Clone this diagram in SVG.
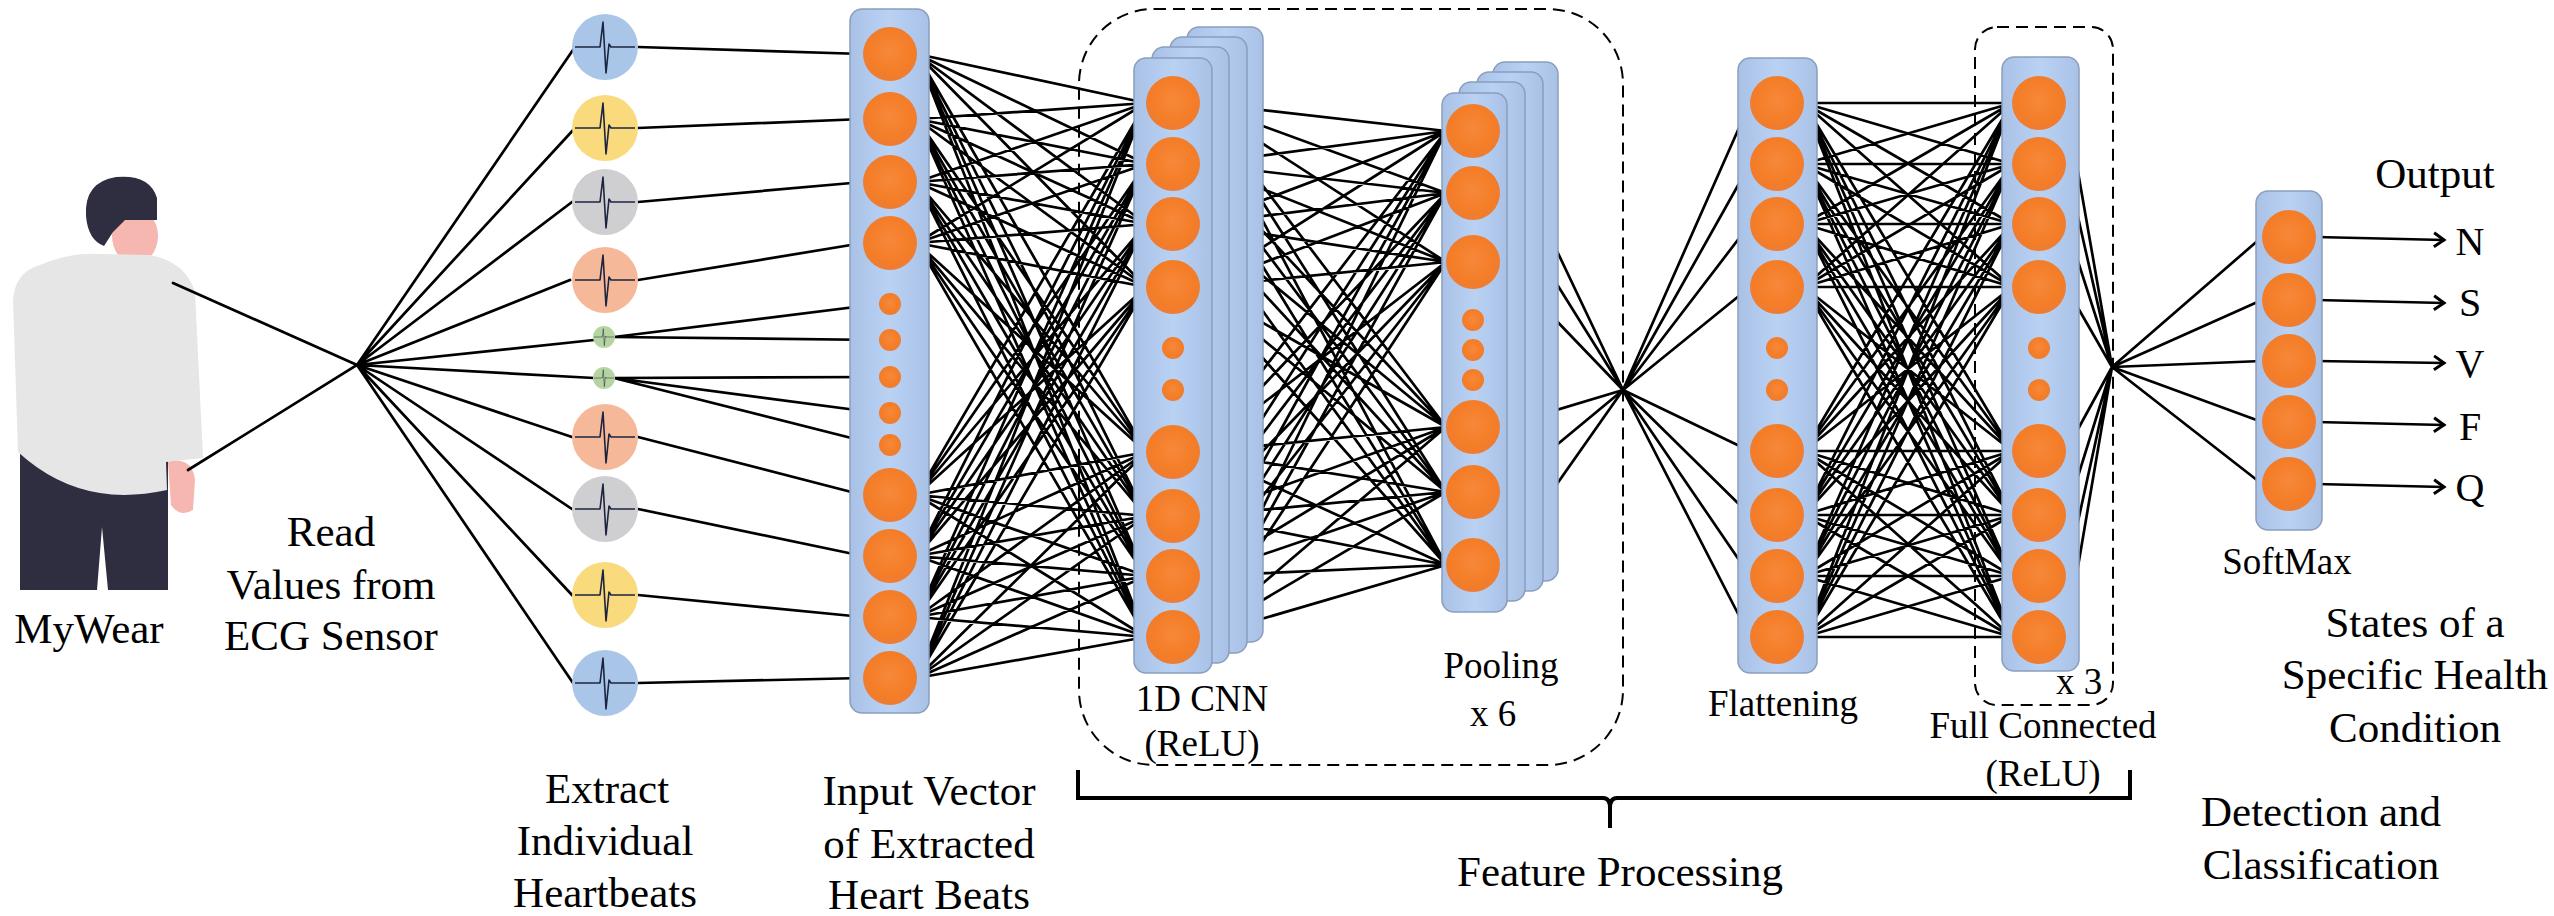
<svg xmlns="http://www.w3.org/2000/svg" xmlns:xlink="http://www.w3.org/1999/xlink" width="2554" height="916" viewBox="0 0 2554 916">
  <style>
    .lbl { fill: #000; text-anchor: middle; }
    .big { font-size: 43px; }
    .sm { font-size: 37px; }
    .layer { fill: url(#layerGrad); stroke: #8a9dbd; stroke-width: 1.5; }
    .node { fill: url(#nodeGrad); }
    .wire { fill: none; stroke: #000; stroke-width: 2.7; stroke-linecap: round; }
    .dash { fill: none; stroke: #000; stroke-width: 2; stroke-dasharray: 12 7; }
    .ecg { fill: none; stroke: #1c2440; stroke-width: 1.6; stroke-linejoin: round; }
  </style>
  <defs>
    <linearGradient id="layerGrad" x1="0" y1="0" x2="1" y2="0">
      <stop offset="0" stop-color="#a9c1e5"/>
      <stop offset="0.5" stop-color="#b9d2f4"/>
      <stop offset="1" stop-color="#a9c1e5"/>
    </linearGradient>
    <radialGradient id="nodeGrad" cx="0.5" cy="0.45" r="0.5">
      <stop offset="0" stop-color="#f7883a"/>
      <stop offset="0.8" stop-color="#f47d27"/>
      <stop offset="1" stop-color="#ef7c30"/>
    </radialGradient>
    <marker id="arr" markerWidth="18" markerHeight="18" refX="14" refY="9" orient="auto" markerUnits="userSpaceOnUse">
      <path d="M4,2 L14,9 L4,16" fill="none" stroke="#000" stroke-width="3"/>
    </marker>
    <path id="ecgTrace" class="ecg" d="M-30,0 H-5 L-2,-25 L1,26 L4,-3 L6,0 H30"/>
  </defs>

  <rect width="2554" height="916" fill="#fff"/>

  <!-- wearer -->
  <g id="person">
    <path d="M20,452 L168,452 L168,590 L108,590 L102,527 L97,590 L20,590 Z" fill="#2f2e41"/>
    <ellipse cx="135" cy="236" rx="23" ry="28" fill="#f7b7b1"/>
    <path d="M40,265 Q70,252 100,254 L150,255 Q186,262 195,292 L203,458 L166,462 L167,490 Q130,498 100,493 Q55,486 18,452 L13,300 Q15,272 40,265 Z" fill="#e6e6e6"/>
    <path d="M168,462 Q192,456 195,480 L193,510 Q180,518 171,505 Z" fill="#f7b7b1"/>
    <path d="M86,216 Q84,182 116,177 Q150,174 157,198 L157,220 L125,220 L113,232 L104,246 Q88,240 86,216 Z" fill="#2f2e41"/>
  </g>

  <!-- connectors -->
  <g id="connectors">
    <path class="wire" d="M173,283 L357,365 L188,470"/>
    <path class="wire" d="M357,365 L575,47 M357,365 L575,128 M357,365 L572,202 M357,365 L570,280 M357,365 L594,340 M357,365 L594,378 M357,365 L572,437 M357,365 L572,509 M357,365 L572,595 M357,365 L573,683"/>
    <path class="wire" d="M638,47 L863,54 M638,128 L863,119 M638,202 L863,182 M638,280 L863,243 M614,337 L879,304 M614,337 L879,340 M614,378 L879,377 M614,378 L879,413 M614,378 L879,445 M638,437 L863,495 M638,509 L863,556 M638,595 L863,617 M638,683 L863,678"/>

    <!-- input vector to 1D CNN -->
    <path class="wire" d="M917 54L1146 103M917 54L1146 164M917 54L1146 224M917 54L1146 287M917 54L1146 452M917 54L1146 516M917 54L1146 576M917 54L1146 637
      M917 119L1146 103M917 119L1146 164M917 119L1146 224M917 119L1146 287M917 119L1146 452M917 119L1146 516M917 119L1146 576M917 119L1146 637
      M917 182L1146 103M917 182L1146 164M917 182L1146 224M917 182L1146 287M917 182L1146 452M917 182L1146 516M917 182L1146 576M917 182L1146 637
      M917 243L1146 103M917 243L1146 164M917 243L1146 224M917 243L1146 287M917 243L1146 452M917 243L1146 516M917 243L1146 576M917 243L1146 637
      M917 495L1146 103M917 495L1146 164M917 495L1146 224M917 495L1146 287M917 495L1146 452M917 495L1146 516M917 495L1146 576M917 495L1146 637
      M917 556L1146 103M917 556L1146 164M917 556L1146 224M917 556L1146 287M917 556L1146 452M917 556L1146 516M917 556L1146 576M917 556L1146 637
      M917 617L1146 103M917 617L1146 164M917 617L1146 224M917 617L1146 287M917 617L1146 452M917 617L1146 516M917 617L1146 576M917 617L1146 637
      M917 678L1146 103M917 678L1146 164M917 678L1146 224M917 678L1146 287M917 678L1146 452M917 678L1146 516M917 678L1146 576M917 678L1146 637"/>

    <!-- 1D CNN to pooling -->
    <path class="wire" d="M1200 103L1446 131M1200 103L1446 193M1200 103L1446 262M1200 103L1446 427M1200 103L1446 492M1200 103L1446 565
      M1200 164L1446 131M1200 164L1446 193M1200 164L1446 262M1200 164L1446 427M1200 164L1446 492M1200 164L1446 565
      M1200 224L1446 131M1200 224L1446 193M1200 224L1446 262M1200 224L1446 427M1200 224L1446 492M1200 224L1446 565
      M1200 287L1446 131M1200 287L1446 193M1200 287L1446 262M1200 287L1446 427M1200 287L1446 492M1200 287L1446 565
      M1200 452L1446 131M1200 452L1446 193M1200 452L1446 262M1200 452L1446 427M1200 452L1446 492M1200 452L1446 565
      M1200 516L1446 131M1200 516L1446 193M1200 516L1446 262M1200 516L1446 427M1200 516L1446 492M1200 516L1446 565
      M1200 576L1446 131M1200 576L1446 193M1200 576L1446 262M1200 576L1446 427M1200 576L1446 492M1200 576L1446 565
      M1200 637L1446 131M1200 637L1446 193M1200 637L1446 262M1200 637L1446 427M1200 637L1446 492M1200 637L1446 565"/>

    <!-- pooling through junction to flattening -->
    <path class="wire" d="M1500 131L1623 390M1500 193L1623 390M1500 262L1623 390M1500 427L1623 390M1500 492L1623 390M1500 565L1623 390
      M1623 390L1750 103M1623 390L1750 164M1623 390L1750 224M1623 390L1750 287M1623 390L1750 451M1623 390L1750 515M1623 390L1750 576M1623 390L1750 637"/>

    <!-- flattening to fully connected -->
    <path class="wire" d="M1804 103L2012 103M1804 103L2012 164M1804 103L2012 224M1804 103L2012 287M1804 103L2012 451M1804 103L2012 515M1804 103L2012 576M1804 103L2012 637
      M1804 164L2012 103M1804 164L2012 164M1804 164L2012 224M1804 164L2012 287M1804 164L2012 451M1804 164L2012 515M1804 164L2012 576M1804 164L2012 637
      M1804 224L2012 103M1804 224L2012 164M1804 224L2012 224M1804 224L2012 287M1804 224L2012 451M1804 224L2012 515M1804 224L2012 576M1804 224L2012 637
      M1804 287L2012 103M1804 287L2012 164M1804 287L2012 224M1804 287L2012 287M1804 287L2012 451M1804 287L2012 515M1804 287L2012 576M1804 287L2012 637
      M1804 451L2012 103M1804 451L2012 164M1804 451L2012 224M1804 451L2012 287M1804 451L2012 451M1804 451L2012 515M1804 451L2012 576M1804 451L2012 637
      M1804 515L2012 103M1804 515L2012 164M1804 515L2012 224M1804 515L2012 287M1804 515L2012 451M1804 515L2012 515M1804 515L2012 576M1804 515L2012 637
      M1804 576L2012 103M1804 576L2012 164M1804 576L2012 224M1804 576L2012 287M1804 576L2012 451M1804 576L2012 515M1804 576L2012 576M1804 576L2012 637
      M1804 637L2012 103M1804 637L2012 164M1804 637L2012 224M1804 637L2012 287M1804 637L2012 451M1804 637L2012 515M1804 637L2012 576M1804 637L2012 637"/>

    <!-- fully connected through junction to softmax -->
    <path class="wire" d="M2066 103L2112 367M2066 164L2112 367M2066 224L2112 367M2066 287L2112 367M2066 451L2112 367M2066 515L2112 367M2066 576L2112 367M2066 637L2112 367
      M2112 367L2262 237M2112 367L2262 300M2112 367L2262 361M2112 367L2262 422M2112 367L2262 484"/>

    <!-- class outputs -->
    <g class="wire" stroke-width="3" marker-end="url(#arr)">
      <line x1="2316" y1="237" x2="2444" y2="240"/>
      <line x1="2316" y1="300" x2="2444" y2="303"/>
      <line x1="2316" y1="361" x2="2444" y2="363"/>
      <line x1="2316" y1="422" x2="2444" y2="425"/>
      <line x1="2316" y1="484" x2="2444" y2="487"/>
    </g>

    <!-- brace under the feature stages -->
    <path d="M1078,770 V798 H1603 Q1610,798 1610,808 V828 M1610,808 Q1610,798 1617,798 H2130 V770" fill="none" stroke="#000" stroke-width="4"/>
  </g>

  <!-- stage groupings -->
  <rect class="dash" x="1079" y="9" width="544" height="756" rx="75"/>
  <rect class="dash" x="1975" y="27" width="138" height="678" rx="22"/>

  <!-- extracted heartbeats -->
  <g id="heartbeats">
    <circle cx="605" cy="47" r="33" fill="#a9c6e8"/>
    <circle cx="605" cy="128" r="33" fill="#f9da7c"/>
    <circle cx="605" cy="202" r="33" fill="#cfcfd2"/>
    <circle cx="605" cy="280" r="33" fill="#f5b999"/>
    <circle cx="604" cy="337" r="11" fill="#b6d4a2"/>
    <circle cx="604" cy="378" r="11" fill="#b6d4a2"/>
    <circle cx="605" cy="437" r="33" fill="#f5b999"/>
    <circle cx="605" cy="509" r="33" fill="#cfcfd2"/>
    <circle cx="605" cy="595" r="33" fill="#f9da7c"/>
    <circle cx="605" cy="683" r="33" fill="#a9c6e8"/>
    <use href="#ecgTrace" transform="translate(605,47)"/>
    <use href="#ecgTrace" transform="translate(605,128)"/>
    <use href="#ecgTrace" transform="translate(605,202)"/>
    <use href="#ecgTrace" transform="translate(605,280)"/>
    <use href="#ecgTrace" transform="translate(604,337) scale(0.33)"/>
    <use href="#ecgTrace" transform="translate(604,378) scale(0.33)"/>
    <use href="#ecgTrace" transform="translate(605,437)"/>
    <use href="#ecgTrace" transform="translate(605,509)"/>
    <use href="#ecgTrace" transform="translate(605,595)"/>
    <use href="#ecgTrace" transform="translate(605,683)"/>
  </g>

  <!-- input vector -->
  <g id="input-vector">
    <rect class="layer" x="850" y="9" width="79" height="704" rx="12"/>
    <g class="node">
      <circle cx="890" cy="54" r="27"/><circle cx="890" cy="119" r="27"/><circle cx="890" cy="182" r="27"/><circle cx="890" cy="243" r="27"/>
      <circle cx="890" cy="304" r="11"/><circle cx="890" cy="340" r="11"/><circle cx="890" cy="377" r="11"/><circle cx="890" cy="413" r="11"/><circle cx="890" cy="445" r="11"/>
      <circle cx="890" cy="495" r="27"/><circle cx="890" cy="556" r="27"/><circle cx="890" cy="617" r="27"/><circle cx="890" cy="678" r="27"/>
    </g>
  </g>

  <!-- 1D CNN feature maps -->
  <g id="cnn">
    <rect class="layer" x="1187" y="27" width="76" height="615" rx="12"/>
    <rect class="layer" x="1170" y="37" width="77" height="616" rx="12"/>
    <rect class="layer" x="1152" y="47" width="77" height="616" rx="12"/>
    <rect class="layer" x="1134" y="58" width="78" height="615" rx="12"/>
    <g class="node">
      <circle cx="1173" cy="103" r="27"/><circle cx="1173" cy="164" r="27"/><circle cx="1173" cy="224" r="27"/><circle cx="1173" cy="287" r="27"/>
      <circle cx="1173" cy="348" r="11"/><circle cx="1173" cy="390" r="11"/>
      <circle cx="1173" cy="452" r="27"/><circle cx="1173" cy="516" r="27"/><circle cx="1173" cy="576" r="27"/><circle cx="1173" cy="637" r="27"/>
    </g>
  </g>

  <!-- pooling maps -->
  <g id="pooling">
    <rect class="layer" x="1493" y="62" width="65" height="519" rx="12"/>
    <rect class="layer" x="1477" y="72" width="66" height="519" rx="12"/>
    <rect class="layer" x="1459" y="82" width="66" height="519" rx="12"/>
    <rect class="layer" x="1442" y="93" width="65" height="519" rx="12"/>
    <g class="node">
      <circle cx="1473" cy="131" r="27"/><circle cx="1473" cy="193" r="27"/><circle cx="1473" cy="262" r="27"/>
      <circle cx="1473" cy="320" r="11"/><circle cx="1473" cy="350" r="11"/><circle cx="1473" cy="380" r="11"/>
      <circle cx="1473" cy="427" r="27"/><circle cx="1473" cy="492" r="27"/><circle cx="1473" cy="565" r="27"/>
    </g>
  </g>

  <!-- flattening -->
  <g id="flattening">
    <rect class="layer" x="1738" y="58" width="79" height="615" rx="12"/>
    <g class="node">
      <circle cx="1777" cy="103" r="27"/><circle cx="1777" cy="164" r="27"/><circle cx="1777" cy="224" r="27"/><circle cx="1777" cy="287" r="27"/>
      <circle cx="1777" cy="348" r="11"/><circle cx="1777" cy="390" r="11"/>
      <circle cx="1777" cy="451" r="27"/><circle cx="1777" cy="515" r="27"/><circle cx="1777" cy="576" r="27"/><circle cx="1777" cy="637" r="27"/>
    </g>
  </g>

  <!-- fully connected -->
  <g id="fully-connected">
    <rect class="layer" x="2002" y="57" width="77" height="614" rx="12"/>
    <g class="node">
      <circle cx="2039" cy="103" r="27"/><circle cx="2039" cy="164" r="27"/><circle cx="2039" cy="224" r="27"/><circle cx="2039" cy="287" r="27"/>
      <circle cx="2039" cy="348" r="11"/><circle cx="2039" cy="390" r="11"/>
      <circle cx="2039" cy="451" r="27"/><circle cx="2039" cy="515" r="27"/><circle cx="2039" cy="576" r="27"/><circle cx="2039" cy="637" r="27"/>
    </g>
  </g>

  <!-- softmax -->
  <g id="softmax">
    <rect class="layer" x="2256" y="191" width="66" height="339" rx="12"/>
    <g class="node">
      <circle cx="2289" cy="237" r="27"/><circle cx="2289" cy="300" r="27"/><circle cx="2289" cy="361" r="27"/><circle cx="2289" cy="422" r="27"/><circle cx="2289" cy="484" r="27"/>
    </g>
  </g>

  <!-- labels -->
  <g id="labels" font-family="'Liberation Serif', 'DejaVu Serif', serif">
    <text class="lbl big" x="89" y="643">MyWear</text>
    <text class="lbl big" x="331" y="546">Read</text>
    <text class="lbl big" x="331" y="599">Values from</text>
    <text class="lbl big" x="331" y="650">ECG Sensor</text>
    <text class="lbl big" x="607" y="803">Extract</text>
    <text class="lbl big" x="605" y="855">Individual</text>
    <text class="lbl big" x="605" y="907">Heartbeats</text>
    <text class="lbl big" x="929" y="805">Input Vector</text>
    <text class="lbl big" x="929" y="858">of Extracted</text>
    <text class="lbl big" x="929" y="909">Heart Beats</text>
    <text class="lbl sm" x="1202" y="711">1D CNN</text>
    <text class="lbl sm" x="1202" y="756">(ReLU)</text>
    <text class="lbl sm" x="1501" y="678">Pooling</text>
    <text class="lbl sm" x="1493" y="726">x 6</text>
    <text class="lbl big" x="1620" y="886">Feature Processing</text>
    <text class="lbl sm" x="1783" y="716">Flattening</text>
    <text class="lbl sm" x="2079" y="694">x 3</text>
    <text class="lbl sm" x="2043" y="738">Full Connected</text>
    <text class="lbl sm" x="2043" y="786">(ReLU)</text>
    <text class="lbl sm" x="2287" y="574">SoftMax</text>
    <text class="lbl big" x="2435" y="188">Output</text>
    <text class="lbl" font-size="40" x="2470" y="255">N</text>
    <text class="lbl" font-size="40" x="2470" y="316">S</text>
    <text class="lbl" font-size="40" x="2470" y="377">V</text>
    <text class="lbl" font-size="40" x="2470" y="440">F</text>
    <text class="lbl" font-size="40" x="2470" y="501">Q</text>
    <text class="lbl big" x="2415" y="637">States of a</text>
    <text class="lbl big" x="2415" y="689">Specific Health</text>
    <text class="lbl big" x="2415" y="742">Condition</text>
    <text class="lbl big" x="2321" y="826">Detection and</text>
    <text class="lbl big" x="2321" y="879">Classification</text>
  </g>
</svg>
